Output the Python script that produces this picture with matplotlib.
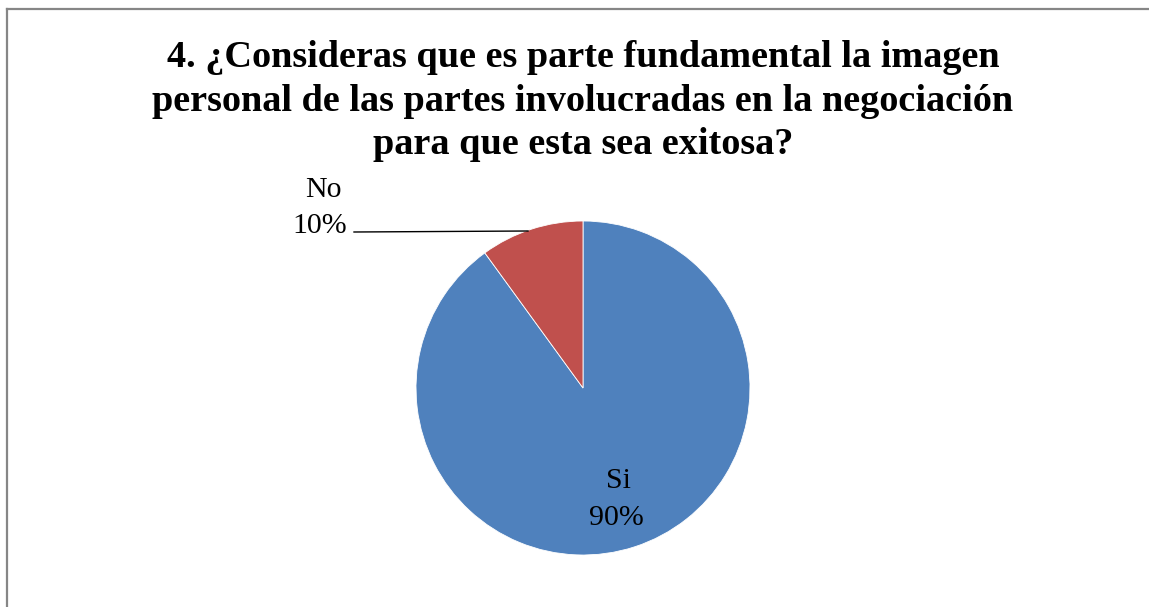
import matplotlib.pyplot as plt
from matplotlib.lines import Line2D

# data
labels = ["Si", "No"]
values = [90, 10]
colors = ["#4F81BD", "#C0504D"]
title_lines = ["4. ¿Consideras que es parte fundamental la imagen",
               "personal de las partes involucradas en la negociación",
               "para que esta sea exitosa?"]

W, H = 1149, 607
fig = plt.figure(figsize=(W / 100, H / 100), dpi=100)
plt.rcParams['font.family'] = ['Liberation Serif', 'DejaVu Serif']

# chart border (left and top edges visible)
fig.add_artist(Line2D([6.5 / W, 6.5 / W], [0, 1 - 8.5 / H], transform=fig.transFigure,
                      color="#868686", lw=1.6))
fig.add_artist(Line2D([6.5 / W, 1], [1 - 8.5 / H, 1 - 8.5 / H], transform=fig.transFigure,
                      color="#868686", lw=1.6))

# title, one line at a time (baselines in pixels)
for line, base in zip(title_lines, [67, 111, 154]):
    fig.text(583 / W, 1 - base / H, line, ha="center", va="baseline",
             fontsize=27.5, fontweight="bold")

cx, cy, r = 583, 388, 167
ax = fig.add_axes([(cx - r) / W, (H - cy - r) / H, 2 * r / W, 2 * r / H])
ax.pie(values, colors=colors, startangle=90, counterclock=False,
       wedgeprops=dict(edgecolor="white", linewidth=0.6))
ax.set_xlim(-1, 1)
ax.set_ylim(-1, 1)
ax.set_aspect("equal")
ax.axis("off")

total = sum(values)
pcts = [f"{v * 100 / total:.0f}%" for v in values]


def px(x, y):
    return (x - cx) / r, (cy - y) / r


# Si label inside the slice
ax.text(*px(618, 488), labels[0], ha="center", va="baseline", fontsize=21.5)
ax.text(*px(616, 525), pcts[0], ha="center", va="baseline", fontsize=21.5)
# No label outside with a leader line
ax.text(*px(323, 197), labels[1], ha="center", va="baseline", fontsize=21.5, clip_on=False)
ax.text(*px(320, 233), pcts[1], ha="center", va="baseline", fontsize=21.5, clip_on=False)
x0, y0 = px(354, 232)
x1, y1 = px(528, 231)
ax.plot([x0, x1], [y0, y1], color="black", lw=1.0, clip_on=False)

plt.savefig("out.png", dpi=100)
